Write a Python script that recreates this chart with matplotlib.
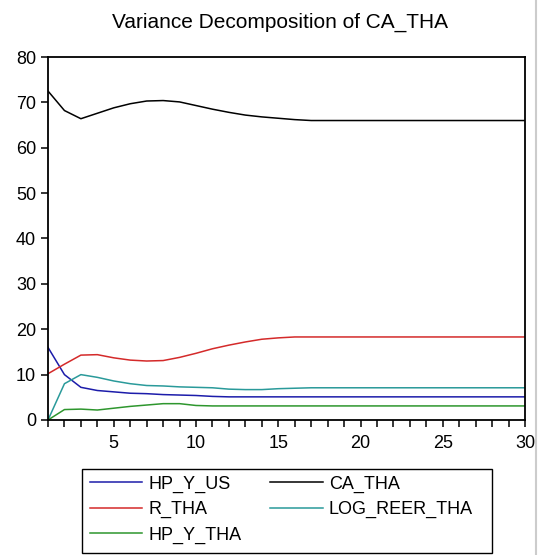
import matplotlib.pyplot as plt
from matplotlib.patches import Rectangle

plt.rcParams['font.family'] = ['Liberation Sans', 'DejaVu Sans']

# forecast horizon
periods = list(range(1, 31))

# variance shares (percent)
hp_y_us = [16.0, 10.0, 7.2, 6.5, 6.2, 5.9, 5.8, 5.6, 5.5, 5.4, 5.2, 5.1, 5.1, 5.1, 5.1,
           5.1, 5.1, 5.1, 5.1, 5.1, 5.1, 5.1, 5.1, 5.1, 5.1, 5.1, 5.1, 5.1, 5.1, 5.1]
ca_tha = [72.5, 68.2, 66.4, 67.6, 68.8, 69.7, 70.3, 70.4, 70.1, 69.3, 68.5, 67.8, 67.2, 66.8, 66.5,
          66.2, 66.0, 66.0, 66.0, 66.0, 66.0, 66.0, 66.0, 66.0, 66.0, 66.0, 66.0, 66.0, 66.0, 66.0]
r_tha = [10.2, 12.3, 14.3, 14.4, 13.7, 13.2, 13.0, 13.1, 13.8, 14.7, 15.7, 16.5, 17.2, 17.8, 18.1,
         18.3, 18.3, 18.3, 18.3, 18.3, 18.3, 18.3, 18.3, 18.3, 18.3, 18.3, 18.3, 18.3, 18.3, 18.3]
log_reer_tha = [0.0, 8.0, 10.0, 9.4, 8.6, 8.0, 7.6, 7.5, 7.3, 7.2, 7.1, 6.8, 6.7, 6.7, 6.9,
                7.0, 7.1, 7.1, 7.1, 7.1, 7.1, 7.1, 7.1, 7.1, 7.1, 7.1, 7.1, 7.1, 7.1, 7.1]
hp_y_tha = [0.0, 2.3, 2.4, 2.2, 2.6, 3.0, 3.3, 3.6, 3.6, 3.2, 3.1, 3.1, 3.1, 3.1, 3.1,
            3.1, 3.1, 3.1, 3.1, 3.1, 3.1, 3.1, 3.1, 3.1, 3.1, 3.1, 3.1, 3.1, 3.1, 3.1]

W, H = 542, 555
fig = plt.figure(figsize=(W / 100, H / 100), dpi=100)
ax = fig.add_axes([48 / W, 1 - 420 / H, (525 - 48) / W, (420 - 57) / H])

lw = 1.1
l1, = ax.plot(periods, hp_y_us, color='#1c1caa', lw=lw, label='HP_Y_US')
l2, = ax.plot(periods, ca_tha, color='black', lw=lw, label='CA_THA')
l3, = ax.plot(periods, r_tha, color='#d42a2a', lw=lw, label='R_THA')
l4, = ax.plot(periods, log_reer_tha, color='#2a9a9a', lw=lw, label='LOG_REER_THA')
l5, = ax.plot(periods, hp_y_tha, color='#2e962e', lw=lw, label='HP_Y_THA')

ax.set_xlim(1, 30)
ax.set_ylim(0, 80)
ax.set_yticks(range(0, 81, 10))
ax.set_xticks(range(5, 31, 5))
ax.set_xticks(range(1, 31), minor=True)
ax.tick_params(which='both', direction='out', length=5, width=1.1, labelsize=13)
ax.tick_params(axis='x', pad=6)
for s in ax.spines.values():
    s.set_linewidth(1.3)

fig.text(280 / W, 1 - 22 / H, 'Variance Decomposition of CA_THA',
         ha='center', va='center', fontsize=15)

# legend box drawn separately so its size matches the original
fig.add_artist(Rectangle((82 / W, 1 - 553 / H), (492 - 82) / W, 84 / H,
                         transform=fig.transFigure, fill=False, edgecolor='black', lw=1.0))
leg = fig.legend(handles=[l1, l3, l5, l2, l4], ncol=2,
                 loc='upper left', bbox_to_anchor=(86 / W, 1 - 472 / H),
                 fontsize=13, frameon=False, handlelength=2.9, handletextpad=0.35,
                 columnspacing=1.6, labelspacing=0.46, borderaxespad=0, borderpad=0.2)

# faint window border on the right
fig.add_artist(plt.Line2D([536 / W, 536 / W], [0, 1], color='#cccccc', lw=1.5))

fig.savefig('out.png', dpi=100)
